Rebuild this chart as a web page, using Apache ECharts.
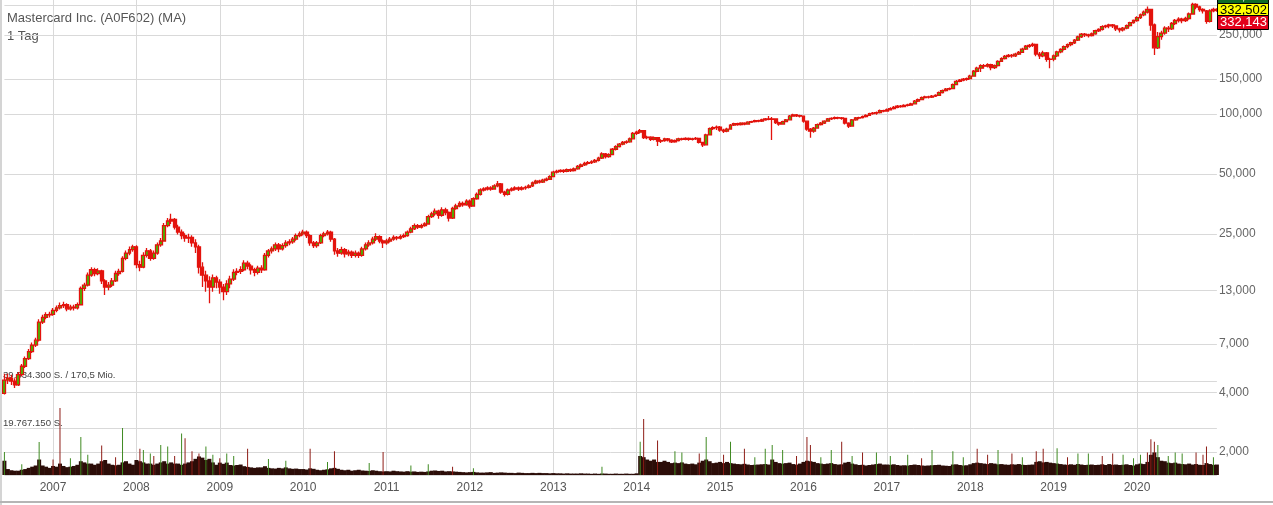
<!DOCTYPE html>
<html><head><meta charset="utf-8">
<script src="https://cdn.jsdelivr.net/npm/echarts@6/dist/echarts.min.js"></script>
<style>html,body{margin:0;padding:0;background:#fff;}#c{width:1273px;height:505px;}</style>
</head><body><div id="c"></div>
<script>
// ---- DATA: half-month candles [open, close, low, high] ----
const ohlc2006 = [[3.95,4.6,3.9,4.95],[4.6,4.7,4.4,4.95],[4.7,4.55,4.35,4.9],[4.55,4.35,4.2,4.7],[4.35,4.9,4.3,5.05],[4.9,5.4,4.8,5.55],[5.4,5.9,5.3,6.05],[5.9,6.4,5.8,6.6],[6.4,6.9,6.3,7.1],[6.9,7.3,6.75,7.5],[7.3,9.0,7.2,9.3],[9.0,9.5,8.8,9.8],[9.5,9.8,9.3,10.1],[9.8,9.85,9.5,10.15]];
const ohlc2007 = [[9.85,10.3,9.7,10.6],[10.3,10.6,10.1,10.9],[10.6,10.9,10.4,11.3],[10.9,11.0,10.6,11.4],[11.0,10.5,10.2,11.2],[10.5,10.7,10.3,11.0],[10.7,10.6,10.3,11.0],[10.6,11.0,10.4,11.3],[11.0,13.3,10.9,13.6],[13.3,13.8,12.9,14.2],[13.8,15.5,13.6,16.0],[15.5,16.5,15.2,17.0],[16.5,15.8,15.3,16.9],[15.8,16.3,15.5,16.8],[16.3,14.5,14.0,16.5],[14.5,13.5,12.3,14.8],[13.5,13.8,13.0,14.3],[13.8,14.5,13.5,15.0],[14.5,15.8,14.3,16.3],[15.8,16.2,15.4,16.7],[16.2,18.8,16.0,19.3],[18.8,20.0,18.4,20.6],[20.0,20.8,19.5,21.6],[20.8,21.5,20.3,22.0]];
const ohlc2008 = [[21.5,17.5,16.8,21.9],[17.5,17.0,16.2,18.3],[17.0,19.5,16.8,20.2],[19.5,20.5,19.0,21.2],[20.5,18.8,18.3,21.0],[18.8,20.0,18.5,20.6],[20.0,22.0,19.6,22.6],[22.0,23.0,21.5,23.8],[23.0,27.5,22.8,28.3],[27.5,29.0,27.0,30.0],[29.0,29.5,28.0,31.5],[29.5,27.0,26.3,30.0],[27.0,25.5,24.8,27.8],[25.5,24.5,23.5,26.3],[24.5,23.8,22.8,25.2],[23.8,24.0,22.5,25.0],[24.0,22.5,21.5,24.6],[22.5,21.5,20.0,23.5],[21.5,17.0,15.8,22.0],[17.0,15.5,13.5,18.0],[15.5,14.5,12.8,16.3],[14.5,13.5,11.2,15.3],[13.5,15.0,12.8,15.6],[15.0,14.3,13.3,15.4]];
const ohlc2009 = [[14.3,13.5,12.5,14.8],[13.5,12.8,11.6,14.0],[12.8,14.0,12.3,14.6],[14.0,14.8,13.3,15.4],[14.8,16.0,14.5,16.6],[16.0,16.2,15.5,16.8],[16.2,16.5,15.7,17.2],[16.5,17.8,16.2,18.4],[17.8,17.2,16.6,18.3],[17.2,16.5,15.6,17.6],[16.5,16.0,15.3,16.9],[16.0,16.8,15.6,17.3],[16.8,16.5,15.9,17.4],[16.5,19.5,16.3,20.0],[19.5,20.5,19.0,21.0],[20.5,21.0,19.9,21.6],[21.0,22.0,20.5,22.6],[22.0,21.0,20.2,22.5],[21.0,21.8,20.6,22.4],[21.8,22.5,21.3,23.2],[22.5,22.8,21.9,23.5],[22.8,23.5,22.3,24.1],[23.5,24.5,23.1,25.1],[24.5,25.0,24.0,25.7]];
const ohlc2010 = [[25.0,25.5,24.5,26.2],[25.5,24.5,23.8,26.0],[24.5,22.5,21.8,24.9],[22.5,21.8,21.2,23.0],[21.8,22.5,21.3,23.0],[22.5,24.5,22.2,25.0],[24.5,25.0,24.0,25.6],[25.0,25.5,24.5,26.1],[25.5,23.5,22.8,25.9],[23.5,20.5,19.6,23.8],[20.5,20.0,19.2,21.2],[20.0,20.8,19.6,21.5],[20.8,19.8,19.0,21.2],[19.8,20.2,19.3,20.8],[20.2,19.5,18.9,20.6],[19.5,20.0,19.0,20.6],[20.0,19.5,18.9,20.4],[19.5,21.0,19.2,21.5],[21.0,22.0,20.6,22.6],[22.0,22.5,21.5,23.2],[22.5,23.5,22.1,24.2],[23.5,24.2,23.0,25.2],[24.2,23.0,22.4,24.6],[23.0,22.5,21.2,23.4]];
const ohlc2011 = [[22.5,23.0,22.0,23.6],[23.0,23.5,22.6,24.1],[23.5,24.0,23.1,24.6],[24.0,23.8,23.2,24.4],[23.8,24.2,23.4,24.8],[24.2,24.5,23.8,25.1],[24.5,25.5,24.2,26.0],[25.5,26.5,25.2,27.1],[26.5,27.5,26.1,28.2],[27.5,27.0,26.4,28.0],[27.0,27.5,26.6,28.1],[27.5,28.0,27.1,28.6],[28.0,30.5,27.8,31.2],[30.5,31.5,30.0,32.3],[31.5,32.5,30.8,33.5],[32.5,31.0,29.8,33.0],[31.0,33.0,30.5,34.0],[33.0,32.0,31.0,33.8],[32.0,30.0,28.8,32.4],[30.0,33.5,29.7,34.2],[33.5,34.5,33.0,35.4],[34.5,35.5,34.0,36.4],[35.5,35.0,34.2,36.3],[35.0,36.5,34.6,37.3]];
const ohlc2012 = [[36.5,34.5,33.5,37.2],[34.5,37.5,34.2,38.2],[37.5,39.5,37.1,40.3],[39.5,41.5,39.0,42.3],[41.5,42.0,40.8,42.8],[42.0,42.5,41.3,43.4],[42.5,42.0,41.2,43.3],[42.0,43.5,41.6,44.4],[43.5,44.5,42.8,46.0],[44.5,40.5,39.8,45.0],[40.5,39.5,38.5,41.2],[39.5,41.5,39.0,42.2],[41.5,42.0,40.8,42.8],[42.0,42.5,41.3,43.4],[42.5,42.0,41.0,43.2],[42.0,42.5,41.3,43.3],[42.5,42.8,41.6,43.6],[42.8,43.5,42.2,44.3],[43.5,45.0,43.0,45.8],[45.0,46.0,44.4,46.8],[46.0,45.5,44.8,46.7],[45.5,46.5,45.0,47.3],[46.5,47.0,45.9,47.9],[47.0,48.5,46.6,49.3]];
const ohlc2013 = [[48.5,51.0,48.2,51.8],[51.0,51.5,50.3,52.4],[51.5,52.0,50.8,52.8],[52.0,51.5,50.6,52.7],[51.5,52.5,50.9,53.3],[52.5,52.0,51.1,53.2],[52.0,53.0,51.4,53.9],[53.0,54.5,52.5,55.4],[54.5,55.5,53.8,56.4],[55.5,56.5,54.8,57.5],[56.5,57.0,55.7,58.0],[57.0,57.5,56.0,58.6],[57.5,58.5,56.7,59.5],[58.5,60.0,57.8,61.0],[60.0,63.0,59.5,64.2],[63.0,61.0,59.8,63.6],[61.0,62.5,60.3,63.5],[62.5,66.5,62.0,67.5],[66.5,68.5,65.6,69.6],[68.5,70.5,67.8,71.6],[70.5,72.0,69.6,73.2],[72.0,72.5,70.8,73.8],[72.5,75.0,71.8,76.2],[75.0,80.0,74.5,81.2]];
const ohlc2014 = [[80.0,81.0,78.5,82.5],[81.0,82.5,79.8,84.0],[82.5,76.0,74.8,83.0],[76.0,76.5,74.6,77.8],[76.5,74.5,73.2,77.2],[74.5,76.0,73.6,77.0],[76.0,73.0,69.0,76.5],[73.0,73.5,71.5,74.6],[73.5,75.0,72.6,76.0],[75.0,74.0,72.8,75.8],[74.0,72.5,71.5,74.6],[72.5,73.5,71.8,74.5],[73.5,75.0,72.8,76.0],[75.0,74.5,73.5,76.0],[74.5,75.5,73.8,76.5],[75.5,74.5,73.4,76.3],[74.5,75.0,73.6,76.0],[75.0,75.5,74.0,76.6],[75.5,72.0,71.0,76.0],[72.0,70.0,68.2,72.6],[70.0,78.5,69.5,79.5],[78.5,84.5,78.0,85.6],[84.5,85.5,83.0,86.8],[85.5,86.0,83.2,87.5]];
const ohlc2015 = [[86.0,83.0,81.5,87.0],[83.0,82.0,80.2,84.2],[82.0,84.0,81.0,85.2],[84.0,88.0,83.5,89.0],[88.0,89.5,87.0,90.5],[89.5,88.5,87.2,90.4],[88.5,90.0,87.6,91.0],[90.0,89.0,87.8,90.8],[89.0,91.0,88.3,92.0],[91.0,91.5,90.0,92.6],[91.5,92.5,90.6,93.5],[92.5,92.0,90.8,93.6],[92.0,93.5,91.2,94.6],[93.5,94.5,92.6,95.6],[94.5,94.0,93.0,97.6],[94.0,94.5,74.0,96.5],[94.5,90.5,89.0,95.0],[90.5,89.0,87.2,91.5],[89.0,91.5,88.2,92.5],[91.5,93.5,91.0,94.5],[93.5,97.5,93.0,98.8],[97.5,99.0,96.8,100.2],[99.0,98.0,96.5,100.0],[98.0,97.5,96.0,99.2]];
const ohlc2016 = [[97.5,92.0,90.5,98.0],[92.0,84.0,82.5,92.6],[84.0,82.0,76.0,85.0],[82.0,85.0,80.5,86.0],[85.0,88.5,84.2,89.5],[88.5,90.0,87.5,91.2],[90.0,92.0,89.2,93.0],[92.0,94.5,91.3,95.5],[94.5,95.0,93.2,96.2],[95.0,96.0,93.8,97.2],[96.0,95.5,94.0,97.0],[95.5,95.0,93.6,96.6],[95.0,90.0,88.6,95.6],[90.0,87.0,85.0,91.0],[87.0,93.5,86.3,94.5],[93.5,95.5,92.6,96.5],[95.5,96.0,94.2,97.0],[96.0,97.0,95.0,98.2],[97.0,98.5,96.0,99.6],[98.5,100.5,97.6,101.6],[100.5,101.0,99.2,102.4],[101.0,101.5,99.0,103.0],[101.5,104.0,100.6,105.2],[104.0,103.5,102.0,105.0]];
const ohlc2017 = [[103.5,105.0,102.5,106.5],[105.0,106.5,104.0,108.0],[106.5,108.0,105.5,109.6],[108.0,109.5,107.0,111.0],[109.5,109.0,107.5,111.0],[109.0,110.5,108.0,112.0],[110.5,111.0,109.0,112.6],[111.0,112.5,110.0,114.0],[112.5,116.0,111.8,117.6],[116.0,118.0,115.0,119.5],[118.0,121.0,117.2,122.5],[121.0,122.0,119.8,123.6],[122.0,121.5,119.5,123.5],[121.5,123.0,120.5,124.6],[123.0,124.0,121.6,125.8],[124.0,128.0,123.0,129.6],[128.0,131.0,126.8,132.6],[131.0,133.5,129.8,135.2],[133.5,134.0,131.6,136.0],[134.0,140.5,133.0,142.2],[140.5,146.0,139.5,148.0],[146.0,148.0,144.5,150.0],[148.0,149.5,146.0,151.6],[149.5,150.5,147.0,152.6]];
const ohlc2018 = [[150.5,155.0,149.0,157.5],[155.0,164.0,154.0,166.5],[164.0,170.0,162.0,173.0],[170.0,175.0,162.5,178.0],[175.0,174.0,169.0,178.5],[174.0,177.0,171.5,180.0],[177.0,171.0,166.0,179.0],[171.0,175.0,168.5,177.5],[175.0,184.0,173.5,186.5],[184.0,190.0,182.5,193.0],[190.0,195.0,188.0,198.0],[195.0,197.0,192.5,200.0],[197.0,196.0,192.0,200.5],[196.0,200.0,193.5,203.0],[200.0,204.0,198.0,207.0],[204.0,212.0,202.5,215.0],[212.0,219.0,210.0,222.0],[219.0,221.0,215.5,224.5],[221.0,224.0,217.0,228.0],[224.0,200.0,195.0,225.0],[200.0,196.0,189.0,205.0],[196.0,203.0,193.0,208.0],[203.0,188.0,183.0,205.0],[188.0,188.5,170.0,192.0]];
const ohlc2019 = [[188.5,196.0,184.0,199.0],[196.0,205.0,193.5,208.0],[205.0,211.0,202.0,214.0],[211.0,218.0,208.5,221.0],[218.0,223.0,214.0,226.0],[223.0,228.0,219.0,231.0],[228.0,235.0,225.0,238.0],[235.0,244.0,232.5,247.0],[244.0,252.0,241.0,255.0],[252.0,250.0,244.0,255.5],[250.0,248.0,242.0,253.0],[248.0,253.0,245.0,256.5],[253.0,262.0,250.5,265.0],[262.0,266.0,258.0,269.5],[266.0,275.0,263.0,279.0],[275.0,277.0,270.0,281.0],[277.0,280.0,270.0,284.0],[280.0,277.0,270.5,283.0],[277.0,268.0,261.0,279.0],[268.0,265.0,257.0,271.0],[265.0,270.0,260.0,273.5],[270.0,278.0,266.5,281.5],[278.0,288.0,275.0,291.0],[288.0,295.0,284.0,298.5]];
const ohlc2020 = [[295.0,305.0,291.0,310.0],[305.0,315.0,300.0,320.0],[315.0,325.0,310.0,331.0],[325.0,335.0,320.0,347.0],[335.0,280.0,262.0,338.0],[280.0,215.0,198.0,285.0],[215.0,245.0,212.0,258.0],[245.0,255.0,236.0,262.0],[255.0,270.0,250.0,276.0],[270.0,268.0,258.0,277.0],[268.0,285.0,264.0,290.0],[285.0,295.0,280.0,300.0],[295.0,300.0,288.0,306.0],[300.0,295.0,286.0,305.0],[295.0,302.0,290.0,308.0],[302.0,318.0,298.0,324.0],[318.0,355.0,315.0,362.0],[355.0,345.0,336.0,360.0],[345.0,335.0,326.0,350.0],[335.0,330.0,320.0,340.0],[330.0,292.0,284.0,333.0],[292.0,330.0,288.0,336.0],[330.0,335.0,325.0,342.0],[335.0,332.143,326.0,340.0]];

// typical daily volume per half-month (million shares)
const vol2006 = [6.0,2.5,2.0,1.8,1.8,2.2,2.5,3.0,3.5,4.0,6.5,4.0,3.5,3.0];
const vol2007 = [3.8,3.5,4.8,3.8,3.3,3.5,3.8,4.3,5.8,5.3,4.8,4.8,4.3,4.8,5.8,6.3,4.8,4.3,4.1,4.3,5.3,5.8,4.8,4.3];
const vol2008 = [6.3,5.8,5.3,4.8,4.8,4.3,4.8,5.3,5.8,4.8,5.3,4.8,4.8,4.3,4.8,5.3,5.8,6.8,7.8,7.3,6.3,6.8,5.3,4.3];
const vol2009 = [5.2,4.7,5.2,4.2,4.0,4.2,4.4,3.7,3.4,3.2,3.0,3.2,3.2,3.7,3.0,2.8,2.7,3.0,2.8,3.2,2.8,2.6,2.7,2.5];
const vol2010 = [2.5,2.3,2.8,2.6,2.2,2.0,2.2,2.4,2.8,3.0,2.6,2.2,2.0,2.2,1.8,2.0,2.2,1.9,1.8,1.7,2.0,1.8,1.6,1.5];
const vol2011 = [1.6,1.5,1.8,1.6,1.5,1.4,1.6,1.4,1.5,1.3,1.4,1.3,1.5,1.8,1.9,1.7,1.8,1.5,1.6,1.5,1.4,1.3,1.2,1.1];
const vol2012 = [1.2,1.3,1.1,1.0,1.0,1.1,1.2,0.9,1.0,1.1,1.0,0.9,0.9,0.8,1.0,0.9,0.8,0.8,0.9,0.8,0.9,0.8,0.8,0.7];
const vol2013 = [0.8,0.7,0.7,0.6,0.7,0.6,0.6,0.6,0.7,0.6,0.6,0.5,0.6,0.5,0.6,0.6,0.5,0.5,0.6,0.5,0.5,0.6,0.5,0.5];
const vol2014 = [0.7,8.0,7.5,6.5,6.0,6.5,5.5,5.5,6.0,5.5,5.0,5.2,5.0,5.3,4.8,4.6,4.8,4.5,5.2,6.0,6.5,5.8,5.0,5.2];
const vol2015 = [5.5,5.0,5.5,5.0,4.8,4.6,4.5,4.7,4.4,4.2,4.3,4.4,4.5,4.6,4.4,6.5,5.5,5.0,4.8,5.0,5.2,4.6,4.4,4.8];
const vol2016 = [5.5,6.0,5.8,5.5,5.0,4.8,4.6,4.8,5.0,4.6,4.4,4.5,5.2,5.5,4.8,4.5,4.2,4.3,4.0,4.2,4.4,4.6,4.8,4.4];
const vol2017 = [4.4,4.3,4.5,4.2,4.0,4.1,4.0,4.2,4.4,4.2,4.0,3.9,4.0,4.1,4.2,4.3,4.0,3.9,3.8,4.4,4.5,4.2,4.0,4.1];
const vol2018 = [4.5,5.0,5.2,5.0,4.8,4.6,5.0,4.8,4.5,4.6,4.4,4.3,4.5,4.4,4.6,4.3,4.2,4.3,4.4,5.5,5.8,5.3,5.5,5.2];
const vol2019 = [5.0,4.8,4.6,4.4,4.3,4.5,4.3,4.6,4.4,4.2,4.3,4.4,4.2,4.3,4.5,4.2,4.6,4.3,4.4,4.2,4.3,4.5,4.2,4.0];
const vol2020 = [4.5,4.8,4.6,5.5,8.5,9.5,7.5,6.0,5.8,5.2,5.0,5.2,4.8,4.6,4.5,4.8,4.4,4.6,4.3,4.2,5.0,4.6,4.3,4.4];

// single-day volume peaks (million shares), direction 1 = up day
const spikePeriods = ['2006-06a','2006-08b','2006-11a','2007-01a','2007-02a','2007-03b','2007-05a','2007-06a','2007-08a','2007-10a','2007-11a','2008-01b','2008-02a','2008-03a','2008-03b','2008-04b','2008-05b','2008-06b','2008-07b','2008-08a','2008-09a','2008-10a','2008-11a','2008-12a','2009-01a','2009-02a','2009-03a','2009-05a','2009-08a','2009-10b','2010-02a','2010-04b','2010-05b','2010-10b','2010-12b','2011-04b','2011-07a','2011-10b','2012-01b','2013-08a','2014-01b','2014-02a','2014-04a','2014-06b','2014-07b','2014-10a','2014-11a','2015-01b','2015-02b','2015-04b','2015-06a','2015-07b','2015-08b','2015-10a','2015-12a','2016-01b','2016-02a','2016-03b','2016-05a','2016-06b','2016-08a','2016-09b','2016-11b','2017-01b','2017-04a','2017-06a','2017-07b','2017-10b','2017-12a','2018-02a','2018-03b','2018-05a','2018-07a','2018-08b','2018-10b','2018-11b','2019-01b','2019-03a','2019-04b','2019-06a','2019-08a','2019-09b','2019-11a','2019-12b','2020-01b','2020-02b','2020-03a','2020-03b','2020-04a','2020-05b','2020-06b','2020-07b','2020-09b','2020-10b','2020-11a','2020-12a'];
const spikeVolumes = [9.7,4.5,13.9,6.5,28.2,7.0,16.0,8.5,12.4,7.5,19.8,11.0,10.5,9.0,8.0,12.6,12.0,8.0,17.5,15.5,10.0,9.0,12.0,8.5,7.0,9.0,8.0,11.0,6.7,6.0,11.0,5.5,10.0,5.0,9.7,4.0,4.5,3.5,2.8,3.5,14.0,23.5,14.5,10.0,9.5,9.0,16.0,8.5,14.0,11.0,7.5,11.0,12.6,10.5,8.0,16.0,12.6,7.5,10.5,14.0,8.0,9.5,9.5,8.0,8.5,7.0,10.5,10.0,7.5,11.0,8.5,10.5,9.0,7.5,10.0,11.0,11.3,7.5,9.0,9.0,8.0,9.0,8.5,7.0,8.5,9.5,15.0,14.0,12.6,8.0,9.5,9.0,9.5,8.5,12.0,7.5];
const spikeUp = [1,1,1,0,0,1,1,1,0,0,1,0,1,1,0,1,1,0,1,0,0,0,1,1,0,1,1,0,1,1,0,1,0,1,0,1,1,0,1,1,1,0,0,1,1,0,1,0,1,0,1,1,1,1,0,0,0,1,1,0,1,0,1,1,1,0,1,1,1,0,0,1,0,1,0,0,1,0,1,1,0,0,1,1,1,0,0,0,1,1,1,1,0,0,0,1];

const priceTicks = [2, 4, 7, 13, 25, 50, 100, 150, 250, 350];
const volumeMax = 39.5343;   // 39.534.300 shares
const volumeHalf = 19.76715; // 19.767.150 shares
const lastQuotes = ['332,502', '332,502', '332,143'];

const years = [2006,2007,2008,2009,2010,2011,2012,2013,2014,2015,2016,2017,2018,2019,2020];
const halfMonths = ['01a','01b','02a','02b','03a','03b','04a','04b','05a','05b','06a','06b','07a','07b','08a','08b','09a','09b','10a','10b','11a','11b','12a','12b'];

// ---- build ----
const categories = [];
years.forEach(y => halfMonths.forEach(h => { if (y === 2006 && h < '06a') return; categories.push(y + '-' + h); }));
const ohlc = [].concat(ohlc2006, ohlc2007, ohlc2008, ohlc2009, ohlc2010, ohlc2011, ohlc2012, ohlc2013, ohlc2014, ohlc2015, ohlc2016, ohlc2017, ohlc2018, ohlc2019, ohlc2020);
const vol = [].concat(vol2006, vol2007, vol2008, vol2009, vol2010, vol2011, vol2012, vol2013, vol2014, vol2015, vol2016, vol2017, vol2018, vol2019, vol2020);
const spikeData = categories.map(() => '-');
spikePeriods.forEach((p, k) => {
  const i = categories.indexOf(p);
  if (i >= 0) spikeData[i] = { value: spikeVolumes[k], itemStyle: { color: spikeUp[k] ? '#3f8a22' : '#8e1d17' } };
});

const isYearStart = (idx, v) => String(v).endsWith('-01a');
const FONT = '"Liberation Sans", Arial, sans-serif';
const fmtPrice = v => Number(v).toFixed(3).replace('.', ',');

const chart = echarts.init(document.getElementById('c'), null, { renderer: 'canvas' });
const L = 4.4, R = 56.1;
chart.setOption({
  animation: false,
  backgroundColor: '#ffffff',
  grid: [
    { left: L, right: R, top: 0, bottom: 30, outerBoundsMode: 'none' },
    { left: L, right: R, top: 381, bottom: 30, outerBoundsMode: 'none' }
  ],
  xAxis: [
    { type: 'category', gridIndex: 0, data: categories, boundaryGap: false,
      axisLine: { show: false }, axisTick: { show: false },
      axisLabel: { interval: isYearStart, formatter: v => v.slice(0, 4), color: '#555', fontSize: 12, fontFamily: FONT, margin: 7 },
      splitLine: { show: true, interval: isYearStart, lineStyle: { color: '#d9d9d9', width: 1 } } },
    { type: 'category', gridIndex: 1, data: categories, boundaryGap: false, show: false },
    { type: 'category', gridIndex: 1, data: categories, boundaryGap: false, show: false }
  ],
  yAxis: [
    { type: 'log', gridIndex: 0, logBase: 10, min: 1.5346, max: 374.0, show: false },
    { type: 'value', gridIndex: 1, min: 0, max: volumeMax, interval: volumeHalf,
      axisLine: { show: false }, axisTick: { show: false }, axisLabel: { show: false },
      splitLine: { show: true, lineStyle: { color: '#d9d9d9', width: 1 } } }
  ],
  series: [
    { type: 'bar', name: 'Volumen', xAxisIndex: 1, yAxisIndex: 1, data: vol, barWidth: 4,
      itemStyle: { color: '#2c0d08' }, z: 2, silent: true },
    { type: 'bar', name: 'Spitzen', xAxisIndex: 2, yAxisIndex: 1, data: spikeData, barWidth: 1, z: 3, silent: true },
    { type: 'candlestick', name: 'MA', xAxisIndex: 0, yAxisIndex: 0, data: ohlc, barWidth: 3.4, z: 4,
      itemStyle: { color: '#3fbf00', color0: '#e3130d', borderColor: '#e3130d', borderColor0: '#e3130d', borderWidth: 1.3 },
      markLine: { silent: true, z: 1, symbol: 'none', animation: false,
        lineStyle: { color: '#d9d9d9', width: 1, type: 'solid' },
        label: { show: true, position: 'end', distance: 2, formatter: p => fmtPrice(p.value), color: '#666', fontSize: 12, fontFamily: FONT },
        emphasis: { disabled: true },
        data: priceTicks.map(v => ({ yAxis: v })) } }
  ],
  graphic: [
    { type: 'rect', shape: { x: 0, y: 0, width: 2, height: 505 }, style: { fill: '#d4d4d4' }, z: 50, silent: true },
    { type: 'rect', shape: { x: 0, y: 501, width: 1273, height: 2 }, style: { fill: '#b5b5b5' }, z: 50, silent: true },
    { type: 'text', style: { text: 'Mastercard Inc. (A0F602) (MA)', x: 7, y: 18.5, fill: '#555', font: '13px ' + FONT, textVerticalAlign: 'middle' }, z: 0, silent: true },
    { type: 'text', style: { text: '1 Tag', x: 7, y: 36.5, fill: '#555', font: '13px ' + FONT, textVerticalAlign: 'middle' }, z: 0, silent: true },
    { type: 'text', style: { text: '39.534.300 S. / 170,5 Mio.', x: 3, y: 375.5, fill: '#444', font: '9.6px ' + FONT, textVerticalAlign: 'middle' }, z: 0, silent: true },
    { type: 'text', style: { text: '19.767.150 S.', x: 3, y: 423.5, fill: '#444', font: '9.6px ' + FONT, textVerticalAlign: 'middle' }, z: 0, silent: true },
    { type: 'rect', shape: { x: 1217.5, y: -11.5, width: 51, height: 15 }, style: { fill: '#0f6a27', stroke: '#000', lineWidth: 1 }, z: 100, silent: true },
    { type: 'text', style: { text: lastQuotes[0], x: 1220, y: -3.5, fill: '#ffffff', font: '13px ' + FONT, textVerticalAlign: 'middle' }, z: 101, silent: true },
    { type: 'rect', shape: { x: 1217.5, y: 3.5, width: 51, height: 12 }, style: { fill: '#ffff00', stroke: '#000', lineWidth: 1 }, z: 100, silent: true },
    { type: 'text', style: { text: lastQuotes[1], x: 1220, y: 10, fill: '#000', font: '13px ' + FONT, textVerticalAlign: 'middle' }, z: 101, silent: true },
    { type: 'rect', shape: { x: 1217.5, y: 15.5, width: 51, height: 14 }, style: { fill: '#e2001a', stroke: '#000', lineWidth: 1 }, z: 100, silent: true },
    { type: 'text', style: { text: lastQuotes[2], x: 1220, y: 22.8, fill: '#ffffff', font: '13px ' + FONT, textVerticalAlign: 'middle' }, z: 101, silent: true }
  ]
});
</script>
</body></html>
